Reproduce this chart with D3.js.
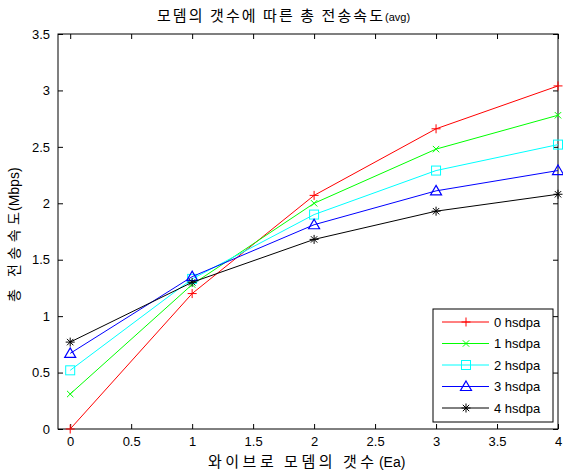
<!DOCTYPE html>
<html><head><meta charset="utf-8">
<script src="https://cdn.jsdelivr.net/npm/d3@7"></script>
<style>body{margin:0;background:#fff}</style>
</head><body>
<svg id="c" width="563" height="472"></svg>
<script>
const xValues = [0, 1, 2, 3, 4];
const seriesNames = ["0 hsdpa", "1 hsdpa", "2 hsdpa", "3 hsdpa", "4 hsdpa"];
const s0 = [0.00, 1.20, 2.07, 2.66, 3.04];
const s1 = [0.31, 1.28, 2.00, 2.48, 2.78];
const s2 = [0.52, 1.33, 1.90, 2.29, 2.52];
const s3 = [0.67, 1.35, 1.81, 2.11, 2.29];
const s4 = [0.77, 1.30, 1.68, 1.93, 2.08];
const xTicks = [0, 0.5, 1, 1.5, 2, 2.5, 3, 3.5, 4];
const yTicks = [0, 0.5, 1, 1.5, 2, 2.5, 3, 3.5];
const colors = ["#ff0000", "#00ff00", "#00ffff", "#0000ff", "#000000"];
const markers = ["plus", "x", "square", "triangle", "star"];
const title = "모뎀의 갯수에 따른 총 전송속도";
const titleSuffix = "(avg)";
const xLabel = "와이브로 모뎀의 갯수";
const xLabelSuffix = " (Ea)";
const yLabel = "총 전송속도";
const yLabelSuffix = "(Mbps)";

const series = [s0, s1, s2, s3, s4];
const svg = d3.select("#c");
const L = 58, R = 558, T = 34, B = 429;
const x = d3.scaleLinear().domain([-0.1, 4]).range([L, R]);
const y = d3.scaleLinear().domain([0, 3.5]).range([B, T]);
const font = "'Liberation Sans', Arial, sans-serif";

// axes
const tk = 5;
const ax = svg.append("g").attr("font-family", font).attr("font-size", 13);
ax.append("g").attr("transform", `translate(0,${B})`).call(d3.axisBottom(x).tickValues(xTicks).tickSize(-tk).tickPadding(8).tickFormat(d3.format("")));
ax.append("g").attr("transform", `translate(0,${T})`).call(d3.axisTop(x).tickValues(xTicks).tickSize(-tk).tickFormat(""));
ax.append("g").attr("transform", `translate(${L},0)`).call(d3.axisLeft(y).tickValues(yTicks).tickSize(-tk).tickPadding(8).tickFormat(d3.format("")));
ax.append("g").attr("transform", `translate(${R},0)`).call(d3.axisRight(y).tickValues(yTicks).tickSize(-tk).tickFormat(""));
ax.selectAll(".domain").remove();
ax.selectAll("text").attr("fill", "#000").attr("font-family", font).attr("font-size", 13);
ax.selectAll(".tick line").attr("stroke", "#000");
svg.append("rect").attr("x", L).attr("y", T).attr("width", R - L).attr("height", B - T)
  .attr("fill", "none").attr("stroke", "#000").attr("stroke-width", 1);

function drawMarker(g, type, cx, cy, color) {
  const s = 4.5;
  if (type === "plus") {
    g.append("path").attr("d", `M${cx-s},${cy}H${cx+s}M${cx},${cy-s}V${cy+s}`).attr("stroke", color).attr("fill", "none");
  } else if (type === "x") {
    const k = 3.2;
    g.append("path").attr("d", `M${cx-k},${cy-k}L${cx+k},${cy+k}M${cx-k},${cy+k}L${cx+k},${cy-k}`).attr("stroke", color).attr("fill", "none");
  } else if (type === "square") {
    g.append("rect").attr("x", cx - s).attr("y", cy - s).attr("width", 2 * s).attr("height", 2 * s).attr("stroke", color).attr("fill", "none");
  } else if (type === "triangle") {
    g.append("path").attr("d", `M${cx},${cy-5.5}L${cx+5.5},${cy+4}L${cx-5.5},${cy+4}Z`).attr("stroke", color).attr("fill", "none").attr("stroke-width", 1.2);
  } else if (type === "star") {
    const k = 3.2;
    g.append("path").attr("d", `M${cx-s},${cy}H${cx+s}M${cx},${cy-s}V${cy+s}M${cx-k},${cy-k}L${cx+k},${cy+k}M${cx-k},${cy+k}L${cx+k},${cy-k}`).attr("stroke", color).attr("fill", "none");
  }
}

const line = d3.line().x((d, i) => x(xValues[i])).y(d => y(d));
series.forEach((s, k) => {
  const g = svg.append("g");
  g.append("path").datum(s).attr("d", line).attr("fill", "none").attr("stroke", colors[k]).attr("stroke-width", 1);
  s.forEach((v, i) => drawMarker(g, markers[k], x(xValues[i]), y(v), colors[k]));
});

// legend
const lg = svg.append("g");
lg.append("rect").attr("x", 433).attr("y", 309).attr("width", 120).attr("height", 113).attr("fill", "#fff").attr("stroke", "#000");
seriesNames.forEach((n, k) => {
  const ly = 322 + k * 21.5;
  lg.append("line").attr("x1", 442).attr("x2", 489).attr("y1", ly).attr("y2", ly).attr("stroke", colors[k]);
  drawMarker(lg, markers[k], 466, ly, colors[k]);
  lg.append("text").attr("x", 494).attr("y", ly + 4.5).attr("font-family", font).attr("font-size", 13).text(n);
});

// labels
const kfont = "'Noto Sans CJK KR', sans-serif";
const tt = svg.append("text").attr("y", 21).attr("font-family", kfont).attr("font-size", 15);
tt.append("tspan").attr("x", 157).attr("textLength", 226).attr("lengthAdjust", "spacing").text(title);
tt.append("tspan").attr("x", 385).attr("font-size", 11).attr("font-family", font).text(titleSuffix);

const xl = svg.append("text").attr("y", 467).attr("font-family", kfont).attr("font-size", 15);
xl.append("tspan").attr("x", 208).attr("textLength", 166).attr("lengthAdjust", "spacing").text(xLabel);
xl.append("tspan").attr("x", 375).attr("font-family", font).attr("font-size", 14).text(xLabelSuffix);

const ylab = svg.append("text").attr("transform", "translate(19,0) rotate(-90)").attr("font-family", kfont).attr("font-size", 14);
ylab.append("tspan").attr("x", -302).attr("textLength", 90).attr("lengthAdjust", "spacing").text(yLabel);
ylab.append("tspan").attr("x", -211).attr("font-family", font).attr("font-size", 14).text(yLabelSuffix);
</script>
</body></html>
